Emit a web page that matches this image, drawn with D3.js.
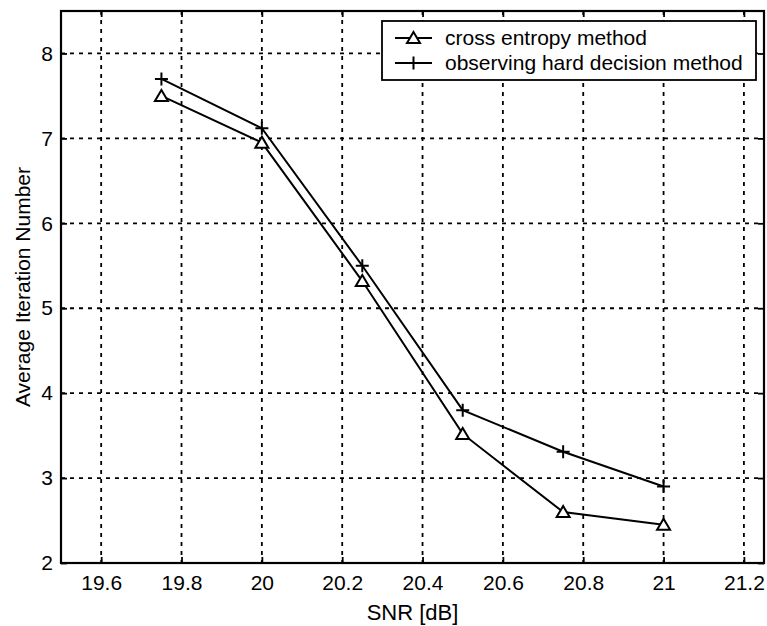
<!DOCTYPE html>
<html>
<head>
<meta charset="utf-8">
<script src="https://cdn.jsdelivr.net/npm/d3@7"></script>
<style>
  html, body { margin: 0; padding: 0; background: #fff; }
  svg { display: block; font-family: "Liberation Sans", Arial, sans-serif; }
</style>
</head>
<body>
<svg id="chart" width="767" height="626"></svg>
<script>
// SNR points (dB)
const snr = [19.75, 20, 20.25, 20.5, 20.75, 21];
// Average iteration count per method
const crossEntropy = [7.5, 6.95, 5.32, 3.52, 2.6, 2.45];
const hardDecision = [7.7, 7.12, 5.5, 3.8, 3.31, 2.9];
const seriesNames = ["cross entropy method", "observing hard decision method"];
// Axis tick values
const xTicks = [19.6, 19.8, 20, 20.2, 20.4, 20.6, 20.8, 21, 21.2];
const yTicks = [2, 3, 4, 5, 6, 7, 8];

const svg = d3.select("#chart");
const plotLeft = 61, plotRight = 764, plotTop = 11, plotBottom = 563;

const x = d3.scaleLinear().domain([19.5, 21.25]).range([plotLeft, plotRight]);
const y = d3.scaleLinear().domain([2, 8.5]).range([plotBottom, plotTop]);

// dashed grid
const grid = svg.append("g").attr("stroke", "#000").attr("stroke-width", 1.8)
  .attr("stroke-dasharray", "4,5");
grid.selectAll("line.v").data(xTicks).join("line").attr("class", "v")
  .attr("x1", d => x(d)).attr("x2", d => x(d))
  .attr("y1", plotTop).attr("y2", plotBottom);
grid.selectAll("line.h").data(yTicks.filter(d => d > 2)).join("line").attr("class", "h")
  .attr("x1", plotLeft).attr("x2", plotRight)
  .attr("y1", d => y(d)).attr("y2", d => y(d));

// axes with inward ticks
const fmt = d3.format("~g");
const xAxis = svg.append("g").attr("transform", `translate(0,${plotBottom})`)
  .call(d3.axisBottom(x).tickValues(xTicks).tickFormat(fmt).tickSize(-6).tickPadding(12));
const xAxisTop = svg.append("g").attr("transform", `translate(0,${plotTop})`)
  .call(d3.axisTop(x).tickValues(xTicks).tickFormat("").tickSize(-6));
const yAxis = svg.append("g").attr("transform", `translate(${plotLeft},0)`)
  .call(d3.axisLeft(y).tickValues(yTicks).tickFormat(fmt).tickSize(-6).tickPadding(8));
const yAxisRight = svg.append("g").attr("transform", `translate(${plotRight},0)`)
  .call(d3.axisRight(y).tickValues(yTicks).tickFormat("").tickSize(-6));
[xAxis, xAxisTop, yAxis, yAxisRight].forEach(g => {
  g.select(".domain").remove();
  g.selectAll(".tick line").attr("stroke", "#000").attr("stroke-width", 1.8);
  g.selectAll(".tick text").attr("fill", "#000").attr("font-size", 21)
    .attr("font-family", "'Liberation Sans', Arial, sans-serif");
});

// plot frame
svg.append("rect").attr("x", plotLeft).attr("y", plotTop)
  .attr("width", plotRight - plotLeft).attr("height", plotBottom - plotTop)
  .attr("fill", "none").attr("stroke", "#000").attr("stroke-width", 2.2);

// axis titles
svg.append("text").attr("x", (plotLeft + plotRight) / 2).attr("y", 620)
  .attr("text-anchor", "middle").attr("font-size", 22).text("SNR [dB]");
svg.append("text")
  .attr("transform", `translate(30,${(plotTop + plotBottom) / 2}) rotate(-90)`)
  .attr("text-anchor", "middle").attr("font-size", 21).text("Average Iteration Number");

// series lines
const line = d3.line().x(d => x(d[0])).y(d => y(d[1]));
const ceData = snr.map((s, i) => [s, crossEntropy[i]]);
const hdData = snr.map((s, i) => [s, hardDecision[i]]);
[ceData, hdData].forEach(data => {
  svg.append("path").datum(data).attr("d", line)
    .attr("fill", "none").attr("stroke", "#000").attr("stroke-width", 2);
});

// markers
function triangle(g, cx, cy) {
  g.append("path")
    .attr("d", `M${cx},${cy - 6} L${cx + 6.5},${cy + 5} L${cx - 6.5},${cy + 5} Z`)
    .attr("fill", "#fff").attr("stroke", "#000").attr("stroke-width", 2);
}
function plus(g, cx, cy) {
  g.append("path")
    .attr("d", `M${cx - 6.5},${cy} H${cx + 6.5} M${cx},${cy - 6.5} V${cy + 6.5}`)
    .attr("stroke", "#000").attr("stroke-width", 2);
}
const marks = svg.append("g");
ceData.forEach(d => triangle(marks, x(d[0]), y(d[1])));
hdData.forEach(d => plus(marks, x(d[0]), y(d[1])));

// legend
const lg = svg.append("g");
lg.append("rect").attr("x", 382).attr("y", 21).attr("width", 374).attr("height", 59)
  .attr("fill", "#fff").attr("stroke", "#000").attr("stroke-width", 1.8);
seriesNames.forEach((name, i) => {
  const ly = 38 + i * 25;
  lg.append("line").attr("x1", 395).attr("x2", 432).attr("y1", ly).attr("y2", ly)
    .attr("stroke", "#000").attr("stroke-width", 2);
  if (i === 0) triangle(lg, 413.5, ly); else plus(lg, 413.5, ly);
  lg.append("text").attr("x", 445).attr("y", ly + 7).attr("font-size", 21).text(name);
});
</script>
</body>
</html>
